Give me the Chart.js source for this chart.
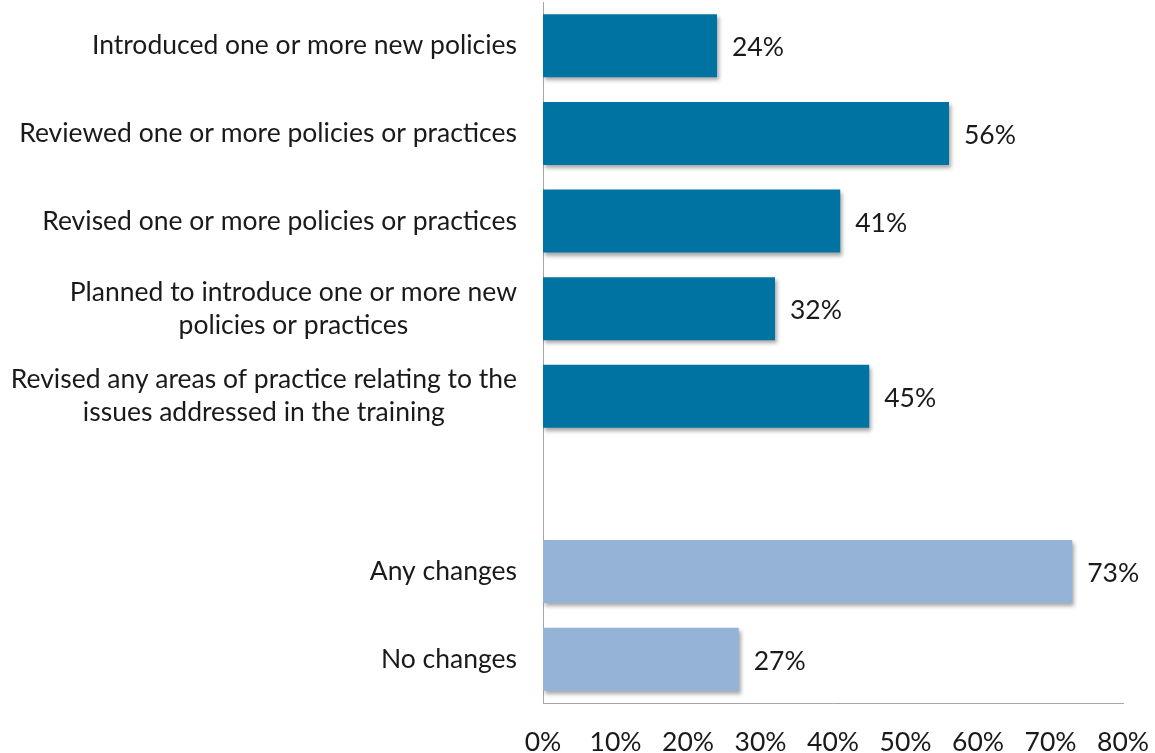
<!DOCTYPE html>
<html>
<head>
<meta charset="utf-8">
<script src="https://cdn.jsdelivr.net/npm/chart.js@4"></script>
<style>
html,body{margin:0;padding:0;background:#fff;}
#wrap{width:1155px;height:753px;position:relative;}
</style>
</head>
<body>
<div id="wrap"><canvas id="c" width="1155" height="753"></canvas></div>
<script>
const categories = [
  ["Introduced one or more new policies"],
  ["Reviewed one or more policies or practices"],
  ["Revised one or more policies or practices"],
  ["Planned to introduce one or more new", "policies or practices"],
  ["Revised any areas of practice relating to the", "issues addressed in the training"],
  [""],
  ["Any changes"],
  ["No changes"]
];
const values = [24, 56, 41, 32, 45, null, 73, 27];
const barColors = ["#0073A3", "#0073A3", "#0073A3", "#0073A3", "#0073A3", "#0073A3", "#95B3D7", "#95B3D7"];
const xTicks = [0, 10, 20, 30, 40, 50, 60, 70, 80];

const FONT = "Lato, 'Open Sans', sans-serif";
const FS = 26.5;
const TXT = "#1a1a1a";

const shadowPlugin = {
  id: 'shadow',
  beforeDatasetDraw(chart) {
    const ctx = chart.ctx;
    ctx.save();
    ctx.shadowColor = 'rgba(0,0,0,0.35)';
    ctx.shadowBlur = 4;
    ctx.shadowOffsetX = 2;
    ctx.shadowOffsetY = 3;
  },
  afterDatasetDraw(chart) {
    chart.ctx.restore();
  }
};

const labelPlugin = {
  id: 'labels',
  afterDraw(chart) {
    const ctx = chart.ctx;
    const yScale = chart.scales.y;
    ctx.save();
    ctx.font = FS + "px " + FONT;
    ctx.fillStyle = TXT;
    ctx.textBaseline = 'middle';
    const rightEdge = chart.chartArea.left - 26;
    const lh = 33;
    categories.forEach((lines, i) => {
      const yc = yScale.getPixelForTick(i);
      const w = Math.max(...lines.map(l => ctx.measureText(l).width));
      const cx = rightEdge - w / 2;
      ctx.textAlign = 'center';
      lines.forEach((l, k) => {
        const y = yc + (k - (lines.length - 1) / 2) * lh;
        ctx.fillText(l, cx, y);
      });
    });
    const meta = chart.getDatasetMeta(0);
    ctx.textAlign = 'left';
    meta.data.forEach((el, i) => {
      if (values[i] === null) return;
      ctx.fillText(values[i] + "%", el.x + 15, el.y + 2);
    });
    ctx.restore();
  }
};

new Chart(document.getElementById('c'), {
  type: 'bar',
  data: {
    labels: categories,
    datasets: [{
      data: values,
      backgroundColor: barColors,
      borderWidth: 0,
      categoryPercentage: 1,
      barPercentage: 0.72
    }]
  },
  plugins: [shadowPlugin, labelPlugin],
  options: {
    indexAxis: 'y',
    responsive: false,
    animation: false,
    devicePixelRatio: 1,
    layout: { padding: { top: 2, right: 32, left: 0, bottom: 0 } },
    plugins: { legend: { display: false }, tooltip: { enabled: false } },
    scales: {
      x: {
        min: 0, max: 80,
        afterBuildTicks(scale) { scale.ticks = xTicks.map(v => ({ value: v })); },
        afterFit(scale) { scale.height = 50; scale.paddingLeft = 0; scale.paddingRight = 0; },
        grid: { display: false, drawTicks: false },
        border: { display: true, color: '#A6A6A6', width: 1 },
        ticks: {
          padding: 24,
          color: TXT,
          font: { family: FONT, size: FS },
          callback: v => v + '%'
        }
      },
      y: {
        afterFit(scale) { scale.width = 543; },
        grid: { display: false, drawTicks: false },
        border: { display: true, color: '#A6A6A6', width: 1 },
        ticks: { display: false }
      }
    }
  }
});
</script>
</body>
</html>
